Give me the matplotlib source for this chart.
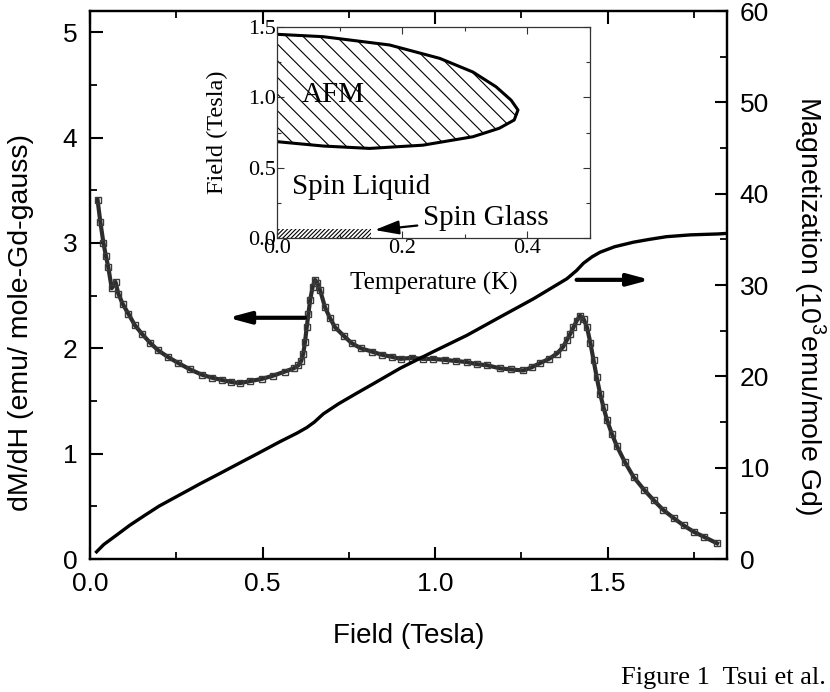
import matplotlib
matplotlib.use('Agg')
import matplotlib.pyplot as plt
from matplotlib.ticker import MultipleLocator, FormatStrFormatter

plt.rcParams['font.family'] = 'Liberation Sans'
plt.rcParams['mathtext.fontset'] = 'custom'
plt.rcParams['mathtext.rm'] = 'Liberation Sans'
plt.rcParams['hatch.linewidth'] = 0.8

# dM/dH (left axis)
field_dmdh = [0.022, 0.03, 0.039, 0.046, 0.053, 0.063, 0.074, 0.082, 0.095, 0.111,
              0.13, 0.15, 0.175, 0.198, 0.225, 0.256, 0.29, 0.324, 0.355, 0.382,
              0.41, 0.435, 0.465, 0.498, 0.53, 0.565, 0.59, 0.604, 0.612, 0.618,
              0.623, 0.628, 0.633, 0.638, 0.645, 0.652, 0.659, 0.667, 0.681, 0.695,
              0.71, 0.735, 0.758, 0.785, 0.816, 0.845, 0.874, 0.9, 0.932, 0.965,
              0.995, 1.03, 1.06, 1.092, 1.12, 1.15, 1.188, 1.22, 1.256, 1.28,
              1.304, 1.33, 1.353, 1.37, 1.382, 1.392, 1.401, 1.41, 1.42, 1.43,
              1.44, 1.45, 1.459, 1.468, 1.478, 1.488, 1.498, 1.512, 1.527, 1.55,
              1.575, 1.605, 1.633, 1.66, 1.691, 1.72, 1.749, 1.78, 1.817]
dmdh = [3.41, 3.2, 3.0, 2.88, 2.77, 2.57, 2.63, 2.52, 2.42, 2.33,
        2.22, 2.14, 2.05, 1.98, 1.92, 1.86, 1.80, 1.75, 1.72, 1.70,
        1.68, 1.67, 1.69, 1.71, 1.74, 1.78, 1.81, 1.84, 1.88, 1.95,
        2.06, 2.20, 2.33, 2.46, 2.58, 2.65, 2.62, 2.55, 2.39, 2.29,
        2.20, 2.12, 2.05, 2.00, 1.97, 1.94, 1.92, 1.90, 1.91, 1.90,
        1.90, 1.89, 1.88, 1.87, 1.85, 1.84, 1.81, 1.80, 1.79, 1.82,
        1.86, 1.90, 1.95, 2.01, 2.08, 2.14, 2.20, 2.26, 2.31, 2.28,
        2.20, 2.05, 1.89, 1.73, 1.57, 1.44, 1.32, 1.19, 1.07, 0.92,
        0.78, 0.66, 0.56, 0.47, 0.39, 0.32, 0.26, 0.21, 0.15]

# magnetization (right axis, 10^3 emu/mole Gd)
field_mag = [0.019, 0.04, 0.077, 0.115, 0.155, 0.2, 0.251, 0.29, 0.319, 0.38,
             0.44, 0.483, 0.55, 0.6, 0.628, 0.65, 0.676, 0.72, 0.77, 0.821,
             0.899, 0.994, 1.092, 1.188, 1.285, 1.382, 1.41, 1.43, 1.455, 1.478,
             1.52, 1.575, 1.62, 1.67, 1.74, 1.82, 1.84]
mag = [0.8, 1.6, 2.63, 3.7, 4.7, 5.8, 6.85, 7.65, 8.25, 9.45,
       10.65, 11.5, 12.85, 13.8, 14.4, 15.0, 15.9, 17.0, 18.1, 19.2,
       20.9, 22.7, 24.5, 26.5, 28.5, 30.7, 31.6, 32.4, 33.1, 33.6,
       34.2, 34.7, 35.0, 35.3, 35.5, 35.6, 35.65]

# inset phase diagram: AFM boundary (upper branch then lower branch)
afm_temp = [0.0, 0.074, 0.18, 0.26, 0.313, 0.35, 0.374, 0.385,
            0.379, 0.355, 0.313, 0.233, 0.148, 0.074, 0.0]
afm_field = [1.448, 1.431, 1.372, 1.277, 1.18, 1.075, 0.98, 0.91,
             0.839, 0.78, 0.72, 0.66, 0.637, 0.654, 0.685]
glass_temp = [0.0, 0.15]
glass_field = 0.065

fig = plt.figure(figsize=(8.3, 6.92), dpi=100)
ax = fig.add_axes([0.1084, 0.192, 0.7676, 0.792])
ax2 = ax.twinx()

ax.plot(field_dmdh, dmdh, '-', color='#2c2c2c', lw=3.0, zorder=2)
ax.plot(field_dmdh, dmdh, 's', ms=4.5, mfc='none', mec='#3a3a3a', mew=1.0, zorder=3)
ax2.plot(field_mag, mag, '-', color='k', lw=2.4)

ax.set_xlim(0, 1.846)
ax.set_ylim(0, 5.2)
ax2.set_ylim(0, 60)
ax.xaxis.set_major_locator(MultipleLocator(0.5))
ax.xaxis.set_minor_locator(MultipleLocator(0.25))
ax.yaxis.set_major_locator(MultipleLocator(1))
ax.yaxis.set_minor_locator(MultipleLocator(0.5))
ax2.yaxis.set_major_locator(MultipleLocator(10))
ax2.yaxis.set_minor_locator(MultipleLocator(5))
ax.xaxis.set_major_formatter(FormatStrFormatter('%.1f'))

for a in (ax, ax2):
    for s in a.spines.values():
        s.set_linewidth(1.6)
ax.tick_params(which='both', direction='in', top=True, right=False, labelsize=19, pad=9)
ax.tick_params(which='major', length=9, width=1.5)
ax.tick_params(which='minor', length=5, width=1.3)
ax2.tick_params(which='both', direction='in', labelsize=19, pad=9)
ax2.tick_params(which='major', length=9, width=1.5)
ax2.tick_params(which='minor', length=5, width=1.3)

ax.set_xlabel('Field (Tesla)', fontsize=20, labelpad=20)
ax.set_ylabel('dM/dH (emu/ mole-Gd-gauss)', fontsize=20.5)
ax.yaxis.set_label_coords(-0.088, 0.432)
ax2.set_ylabel('Magnetization (10$^{3}$emu/mole Gd)', fontsize=20.5, rotation=270)
ax2.yaxis.set_label_coords(1.158, 0.463)

arrow = dict(arrowstyle='-|>,head_length=1.3,head_width=0.35', lw=3, color='k',
             shrinkA=0, shrinkB=0)
ax.annotate('', xy=(0.40, 2.29), xytext=(0.623, 2.29), arrowprops=arrow)
ax.annotate('', xy=(1.623, 2.65), xytext=(1.41, 2.65), arrowprops=arrow)

fig.text(0.995, 0.02, 'Figure 1  Tsui et al.', family='Liberation Serif',
         fontsize=19, ha='right', va='center')

# inset
serif = 'Liberation Serif'
ins = fig.add_axes([0.3337, 0.656, 0.3771, 0.305])
ins.set_zorder(5)
ins.fill(afm_temp, afm_field, fill=False, hatch='\\\\', lw=0, edgecolor='k')
ins.plot(afm_temp, afm_field, color='k', lw=2.2)
ins.fill_between(glass_temp, 0, glass_field, facecolor='none', hatch='////////',
                 edgecolor='k', lw=0)
ins.set_xlim(0, 0.5)
ins.set_ylim(0, 1.5)
ins.xaxis.set_major_locator(MultipleLocator(0.2))
ins.xaxis.set_minor_locator(MultipleLocator(0.1))
ins.yaxis.set_major_locator(MultipleLocator(0.5))
ins.yaxis.set_minor_locator(MultipleLocator(0.25))
ins.xaxis.set_major_formatter(FormatStrFormatter('%.1f'))
ins.yaxis.set_major_formatter(FormatStrFormatter('%.1f'))
for s in ins.spines.values():
    s.set_linewidth(0.9)
    s.set_color('#333333')
ins.tick_params(which='both', direction='in', top=True, right=True,
                labelsize=16, pad=1, width=0.8, color='#333333')
ins.tick_params(which='major', length=5)
ins.tick_params(which='minor', length=3)
for lab in ins.get_xticklabels() + ins.get_yticklabels():
    lab.set_family(serif)
ins.set_xlabel('Temperature (K)', family=serif, fontsize=18, labelpad=10)
ins.set_ylabel('Field (Tesla)', family=serif, fontsize=17.5, labelpad=14)

ins.text(0.04, 1.015, 'AFM', family=serif, fontsize=21, va='center')
ins.text(0.024, 0.36, 'Spin Liquid', family=serif, fontsize=21, va='center')
ins.annotate('Spin Glass', xy=(0.156, 0.057), xytext=(0.233, 0.14),
             family=serif, fontsize=21, va='center', ha='left',
             arrowprops=dict(arrowstyle='-|>,head_length=0.7,head_width=0.2',
                             lw=1.6, color='k', shrinkA=2, shrinkB=0))

fig.savefig('out.png', dpi=100)
